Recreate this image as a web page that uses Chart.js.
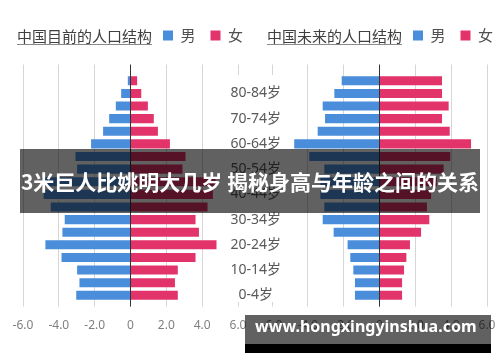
<!DOCTYPE html>
<html>
<head>
<meta charset="utf-8">
<script src="https://cdn.jsdelivr.net/npm/chart.js"></script>
<style>
html, body { margin: 0; padding: 0; background: #fff; overflow: hidden; }
#wrap { position: relative; width: 500px; height: 362px; overflow: hidden; }
canvas { position: absolute; top: 0; }
#nowChart { left: 0; }
#futChart { left: 200px; }
.ttl { position: absolute; top: 28px; height: 16px; font: 15px/16px 'Noto Sans CJK SC', sans-serif; color: #404040; border-bottom: 1px solid #8a8a8a; white-space: nowrap; }
.banner { position: absolute; left: 20px; top: 149px; width: 460px; height: 64px; background: rgba(0,0,0,0.62); color: #fff; font: bold 21px/64px 'Noto Sans CJK SC', sans-serif; text-align: center; white-space: nowrap; }
.wm { position: absolute; left: 245px; top: 315px; width: 246px; height: 38px; background: linear-gradient(rgba(0,0,0,0.62) 0, rgba(0,0,0,0.62) 29px, #000 29px); }
.wm span { position: absolute; left: 10px; top: 0; line-height: 40px; color: #fff; font: bold 16px 'Noto Sans', sans-serif; white-space: nowrap; }
</style>
</head>
<body>
<div id="wrap">
  <canvas id="nowChart" width="260" height="362"></canvas>
  <canvas id="futChart" width="310" height="362"></canvas>
  <div class="ttl" style="left:17px">中国目前的人口结构</div>
  <div class="ttl" style="left:267px">中国未来的人口结构</div>
  <div class="banner">3米巨人比姚明大几岁 揭秘身高与年龄之间的关系</div>
  <div class="wm"><span>www.hongxingyinshua.com</span></div>
</div>
<script>
// age groups, bottom to top
const ages = ['0-4岁', '5-9岁', '10-14岁', '15-19岁', '20-24岁', '25-29岁', '30-34岁', '35-39岁', '40-44岁',
              '45-49岁', '50-54岁', '55-59岁', '60-64岁', '65-69岁', '70-74岁', '75-79岁', '80-84岁', '85岁以上'];

// share of population (%), current structure
const nowMale   = [3.03, 2.85, 2.98, 3.85, 4.75, 3.80, 3.67, 4.45, 4.85, 4.95, 2.98, 3.07, 2.20, 1.53, 1.19, 0.82, 0.52, 0.15];
const nowFemale = [2.64, 2.48, 2.64, 3.63, 4.80, 3.82, 3.63, 4.30, 4.60, 4.75, 2.90, 3.07, 2.20, 1.53, 1.30, 0.97, 0.60, 0.37];

// share of population (%), future structure
const futMale   = [1.37, 1.37, 1.46, 1.63, 1.78, 2.56, 3.17, 3.08, 3.30, 3.30, 3.08, 3.92, 4.76, 3.45, 3.04, 3.17, 2.52, 2.11];
const futFemale = [1.26, 1.26, 1.37, 1.50, 1.70, 2.32, 2.78, 2.65, 2.88, 3.20, 3.58, 3.95, 5.11, 3.92, 3.49, 3.86, 3.49, 3.49];

const BLUE = '#4a8edb';
const PINK = '#e2336b';
const GRID = '#d6d6d6';
const ZERO = '#333';

// move the legend so it sits next to the html title
const legendAt = x => ({
    id: 'legendAt',
    afterLayout(chart) {
        const lg = chart.legend;
        const w = lg.right - lg.left;
        lg.left = x - lg.options.labels.padding;
        lg.right = lg.left + w;
    }
});

function pyramid(id, male, female, side, legendX) {
    const hidden = side === 'left' ? 6 : -6; // edge covered by the age labels
    const gridColor = ctx => {
        const v = ctx.tick && ctx.tick.value;
        if (v === 0) return ZERO;
        if (v === hidden) return 'rgba(0,0,0,0)';
        return GRID;
    };
    const tickColor = ctx => (ctx.tick && ctx.tick.value === 0 ? ZERO : GRID);

    const yAxis = {
        stacked: true,
        reverse: true,
        display: false
    };
    if (side === 'right') {
        Object.assign(yAxis, {
            display: true,
            position: 'left',
            grid: { display: false },
            border: { display: false },
            ticks: {
                autoSkip: false,
                crossAlign: 'center',
                padding: -17,
                color: '#595959',
                font: { family: "'Noto Sans', 'Noto Sans CJK SC', sans-serif", size: 14 },
                callback: (v, i) => (i % 2 === 0 ? ages[i] : '')
            },
            afterFit: s => {
                s.width = 72;
                // the age labels run a little into the plot, don't clip them to the axis box
                s._computeLabelArea = () => null;
            }
        });
    }

    return new Chart(document.getElementById(id), {
        type: 'bar',
        data: {
            labels: ages,
            datasets: [{
                label: '男',
                data: male.map(v => -v),
                backgroundColor: BLUE,
                barPercentage: 0.72,
                categoryPercentage: 1
            }, {
                label: '女',
                data: female,
                backgroundColor: PINK,
                barPercentage: 0.72,
                categoryPercentage: 1
            }]
        },
        options: {
            indexAxis: 'y',
            responsive: false,
            animation: false,
            devicePixelRatio: 1,
            layout: {
                padding: side === 'left'
                    ? { left: 23, right: 22, top: 13, bottom: 17 }
                    : { left: 0, right: 23, top: 13, bottom: 17 }
            },
            scales: {
                x: {
                    type: 'linear',
                    stacked: true,
                    min: -6,
                    max: 6,
                    ticks: {
                        stepSize: 2,
                        padding: 12,
                        maxRotation: 0,
                        color: '#808080',
                        font: { family: "'Noto Sans', sans-serif", size: 12 },
                        callback: v => (v === 0 ? '0' : v.toFixed(1))
                    },
                    grid: { color: gridColor, tickColor: tickColor, tickLength: 5 },
                    border: { display: false }
                },
                xTop: {
                    type: 'linear',
                    position: 'top',
                    min: -6,
                    max: 6,
                    ticks: { stepSize: 2, display: false },
                    grid: { drawOnChartArea: false, tickColor: tickColor, tickLength: 10 },
                    border: { display: false },
                    afterFit: s => { s.height = 21.5; }
                },
                xZero: {
                    type: 'linear',
                    position: 'bottom',
                    min: -6,
                    max: 6,
                    z: 1,
                    afterBuildTicks: s => { s.ticks = [{ value: 0 }]; },
                    ticks: { display: false },
                    grid: { color: ZERO, drawTicks: false },
                    border: { display: false }
                },
                y: yAxis
            },
            plugins: {
                legend: {
                    position: 'top',
                    align: 'start',
                    labels: {
                        boxWidth: 10,
                        boxHeight: 10,
                        padding: 15,
                        color: '#505050',
                        font: { family: "'Noto Sans CJK SC', sans-serif", size: 15 }
                    }
                },
                tooltip: { enabled: false }
            }
        },
        plugins: [legendAt(legendX)]
    });
}

pyramid('nowChart', nowMale, nowFemale, 'left', 163);
pyramid('futChart', futMale, futFemale, 'right', 213);
</script>
</body>
</html>
